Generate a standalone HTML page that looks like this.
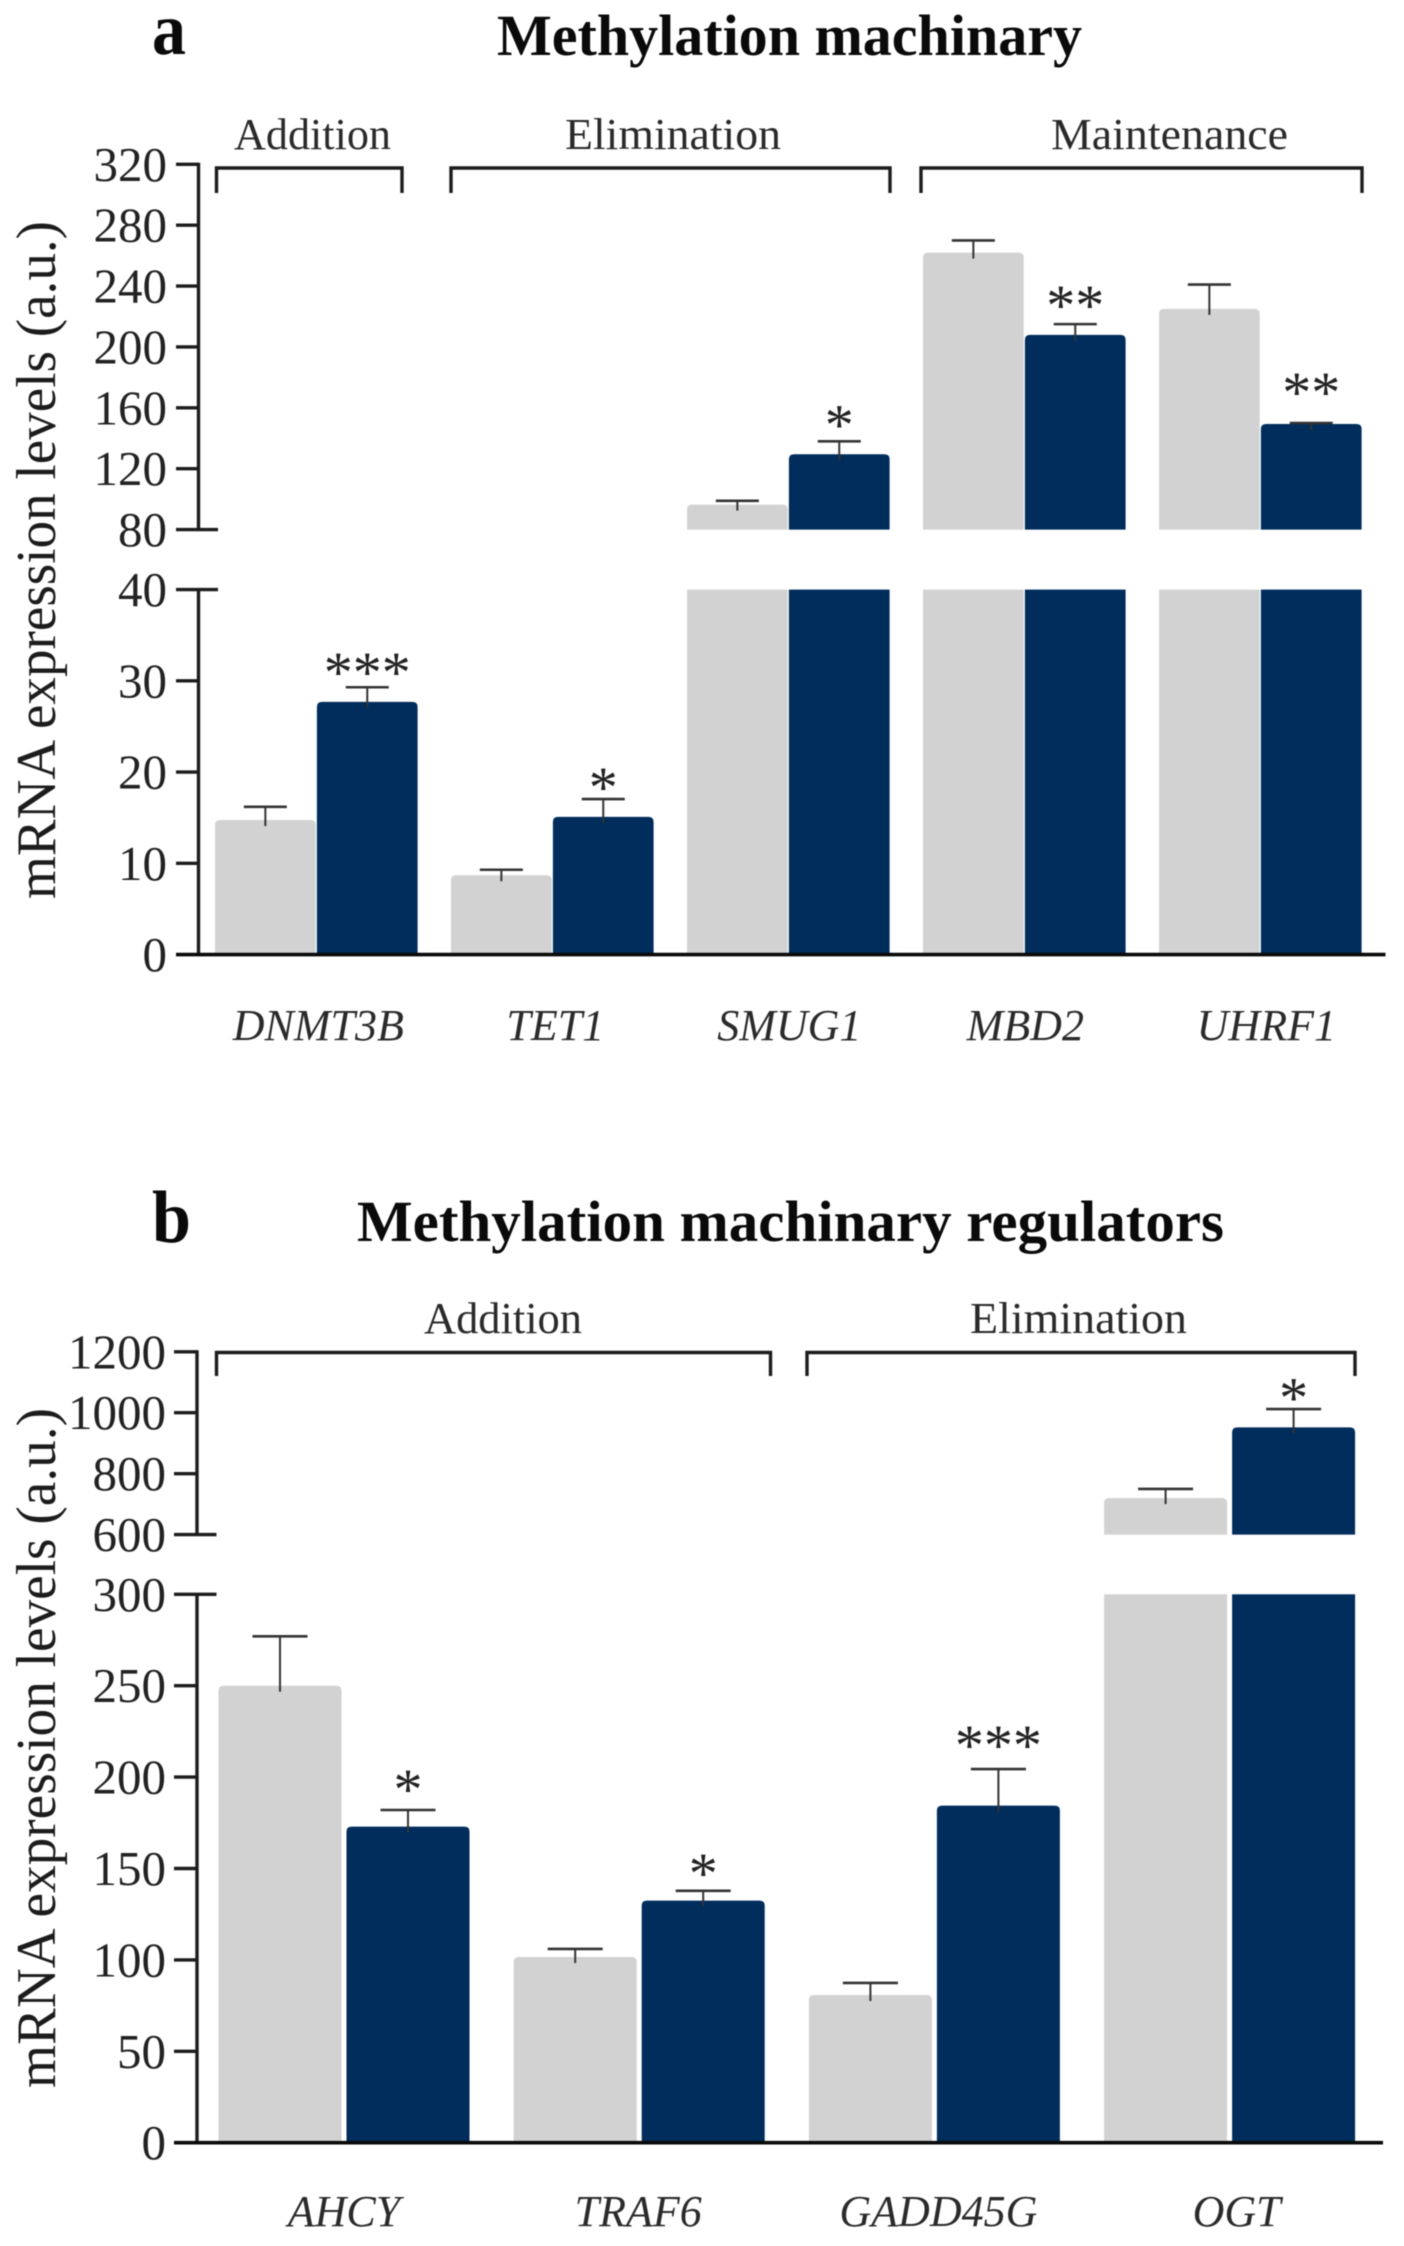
<!DOCTYPE html>
<html lang="en">
<head>
<meta charset="utf-8">
<title>Methylation machinary</title>
<style>
html,body{margin:0;padding:0;background:#fff;}
#figure{display:block;width:1404px;height:2246px;filter:blur(0.6px);font-family:"Liberation Serif",serif;fill:#1c1c1c;}
.title{font-weight:bold;font-size:58px;fill:#0a0a0a;}
.letter{font-weight:bold;font-size:74px;fill:#0a0a0a;}
.group{font-size:44px;fill:#2a2a2a;}
.ytitle{font-size:56px;fill:#1c1c1c;}
</style>
</head>
<body>
<svg id="figure" xmlns="http://www.w3.org/2000/svg" width="1404" height="2246" viewBox="0 0 1404 2246">
  <rect width="1404" height="2246" fill="#fff"/>

  <text class="letter" x="152" y="54" textLength="34" lengthAdjust="spacingAndGlyphs">a</text>
  <text class="title" x="497" y="55" textLength="585" lengthAdjust="spacingAndGlyphs">Methylation machinary</text>
  <text class="group" x="234" y="149" textLength="157" lengthAdjust="spacingAndGlyphs">Addition</text>
  <text class="group" x="565" y="149" textLength="216" lengthAdjust="spacingAndGlyphs">Elimination</text>
  <text class="group" x="1051" y="149" textLength="237" lengthAdjust="spacingAndGlyphs">Maintenance</text>
  <path d="M216.5 193V168H402V193" fill="none" stroke="#1c1c1c" stroke-width="3.4"/>
  <path d="M451 193V168H890V193" fill="none" stroke="#1c1c1c" stroke-width="3.4"/>
  <path d="M921 193V168H1362V193" fill="none" stroke="#1c1c1c" stroke-width="3.4"/>
  <text class="ytitle" transform="translate(55,899) rotate(-90)" textLength="678" lengthAdjust="spacingAndGlyphs">mRNA expression levels (a.u.)</text>

  <text class="letter" x="152" y="1242" textLength="39" lengthAdjust="spacingAndGlyphs">b</text>
  <text class="title" x="357" y="1241" textLength="867" lengthAdjust="spacingAndGlyphs">Methylation machinary regulators</text>
  <text class="group" x="424" y="1333" textLength="158" lengthAdjust="spacingAndGlyphs">Addition</text>
  <text class="group" x="970" y="1333" textLength="217" lengthAdjust="spacingAndGlyphs">Elimination</text>
  <path d="M216.5 1376V1352.5H770.5V1376" fill="none" stroke="#1c1c1c" stroke-width="3.4"/>
  <path d="M807 1376V1352.5H1355V1376" fill="none" stroke="#1c1c1c" stroke-width="3.4"/>
  <text class="ytitle" transform="translate(55,2088) rotate(-90)" textLength="680" lengthAdjust="spacingAndGlyphs">mRNA expression levels (a.u.)</text>

  <g id="panel-a"></g>
  <g id="panel-b"></g>
</svg>
<script>
// Panel a data
const aCategories = ['DNMT3B', 'TET1', 'SMUG1', 'MBD2', 'UHRF1'];
const aControl = [14.75, 8.7, 96.4, 262, 225];
const aControlCap = [16.2, 9.3, 98.9, 270, 241];
const aTreated = [27.7, 15.1, 129.5, 207.9, 149.4];
const aTreatedCap = [29.3, 17.05, 138, 215, 150];
const aStars = ['***', '*', '*', '**', '**'];
const aLowerTicks = [0, 10, 20, 30, 40];
const aUpperTicks = [80, 120, 160, 200, 240, 280, 320];

// Panel b data
const bCategories = ['AHCY', 'TRAF6', 'GADD45G', 'OGT'];
const bControl = [250, 101.6, 80.8, 720];
const bControlCap = [277, 106, 87.4, 750];
const bTreated = [172.9, 132.4, 184.4, 952];
const bTreatedCap = [182, 137.8, 204.4, 1012];
const bStars = ['*', '*', '***', '*'];
const bLowerTicks = [0, 50, 100, 150, 200, 250, 300];
const bUpperTicks = [600, 800, 1000, 1200];

const SVG_NS = 'http://www.w3.org/2000/svg';
const CONTROL_FILL = '#d2d2d2';
const TREATED_FILL = '#002d5c';
const INK = '#1c1c1c';
const STAR_SIZE = 58;

function make(parent, tag, props, text) {
  const el = document.createElementNS(SVG_NS, tag);
  for (const k in props) el.setAttribute(k, props[k]);
  if (text !== undefined) el.textContent = text;
  parent.appendChild(el);
  return el;
}

function topRoundedPath(x, w, top, bottom, r) {
  return 'M' + x + ' ' + bottom + 'V' + (top + r) + 'Q' + x + ' ' + top + ' ' + (x + r) + ' ' + top +
    'H' + (x + w - r) + 'Q' + (x + w) + ' ' + top + ' ' + (x + w) + ' ' + (top + r) + 'V' + bottom + 'Z';
}

function drawPanel(cfg) {
  const root = document.getElementById(cfg.rootId);
  const lowerMax = cfg.lowerTicks[cfg.lowerTicks.length - 1];
  const upperMin = cfg.upperTicks[0];
  const upperMax = cfg.upperTicks[cfg.upperTicks.length - 1];

  const yLower = function (v) {
    return cfg.y0 + (cfg.yLowerTop - cfg.y0) * v / lowerMax;
  };
  const yUpper = function (v) {
    return cfg.yUpperBottom + (cfg.yUpperTop - cfg.yUpperBottom) * (v - upperMin) / (upperMax - upperMin);
  };
  const yValue = function (v) {
    return v > lowerMax ? yUpper(v) : yLower(v);
  };
  const xBar = function (catIndex, seriesIndex) {
    return cfg.x0 + cfg.period * catIndex + seriesIndex * (cfg.barWidth + cfg.barGap);
  };

  function drawBar(catName, seriesName, fill, cat, series, value) {
    const x = xBar(cat, series);
    if (value > lowerMax) {
      const lowerPart = make(root, 'rect', { x: x, y: cfg.yLowerTop, width: cfg.barWidth, height: cfg.y0 - cfg.yLowerTop, fill: fill });
      
      
      const upperPart = make(root, 'path', { d: topRoundedPath(x, cfg.barWidth, yUpper(value), cfg.yUpperBottom, 5), fill: fill });
      
      
    } else {
      const bar = make(root, 'path', { d: topRoundedPath(x, cfg.barWidth, yLower(value), cfg.y0, 5), fill: fill });
      
      
    }
  }

  function drawError(catName, seriesName, cat, series, value, cap) {
    const cx = xBar(cat, series) + cfg.barWidth / 2;
    const capY = yValue(cap);
    const stem = make(root, 'line', { x1: cx, x2: cx, y1: capY, y2: yValue(value) + 6, stroke: '#333', 'stroke-width': 2 });
    
    
    const capLine = make(root, 'line', { x1: cx - cfg.capWidth / 2, x2: cx + cfg.capWidth / 2, y1: capY, y2: capY, stroke: '#333', 'stroke-width': 2.6 });
    
    
  }

  cfg.categories.forEach(function (name, i) {
    drawBar(name, 'control', CONTROL_FILL, i, 0, cfg.control[i]);
    drawBar(name, 'treated', TREATED_FILL, i, 1, cfg.treated[i]);
    drawError(name, 'control', i, 0, cfg.control[i], cfg.controlCap[i]);
    drawError(name, 'treated', i, 1, cfg.treated[i], cfg.treatedCap[i]);

    const star = make(root, 'text', {
      x: xBar(i, 1) + cfg.barWidth / 2,
      y: yValue(cfg.treatedCap[i]) - cfg.starLift[i] + 0.45 * STAR_SIZE,
      'text-anchor': 'middle',
      'font-size': STAR_SIZE,
      fill: '#222'
    }, cfg.stars[i]);
    
    

    const label = make(root, 'text', {
      x: xBar(i, 0) + cfg.barWidth + cfg.barGap / 2 + cfg.labelShift[i],
      y: cfg.labelY,
      'text-anchor': 'middle',
      'font-size': 44,
      'font-style': 'italic',
      fill: '#2a2a2a'
    }, name);
    
    
  });

  const axisUpper = make(root, 'line', { x1: cfg.axisX, x2: cfg.axisX, y1: cfg.yUpperTop - 1.5, y2: cfg.yUpperBottom, stroke: INK, 'stroke-width': 3.4 });
  
  
  const axisLower = make(root, 'line', { x1: cfg.axisX, x2: cfg.axisX, y1: cfg.yLowerTop, y2: cfg.y0, stroke: INK, 'stroke-width': 3.4 });
  
  
  const axisX = make(root, 'line', { x1: cfg.tickLeft, x2: cfg.axisEnd, y1: cfg.y0, y2: cfg.y0, stroke: '#0a0a0a', 'stroke-width': 3.6 });
  
  

  function drawTick(value, y, extend) {
    if (value !== 0) {
      const tick = make(root, 'line', { x1: cfg.tickLeft, x2: extend ? cfg.breakTickEnd : cfg.axisX, y1: y, y2: y, stroke: INK, 'stroke-width': 3.4 });
      
      
    }
    const tickLabel = make(root, 'text', { x: cfg.tickLabelX, y: y + 16.5, 'text-anchor': 'end', 'font-size': 49, fill: '#222' }, String(value));
    
    
  }

  cfg.upperTicks.forEach(function (t) { drawTick(t, yUpper(t), t === upperMin); });
  cfg.lowerTicks.forEach(function (t) { drawTick(t, yLower(t), t === lowerMax); });
}

drawPanel({
  rootId: 'panel-a', categories: aCategories, control: aControl, controlCap: aControlCap,
  treated: aTreated, treatedCap: aTreatedCap, stars: aStars,
  lowerTicks: aLowerTicks, upperTicks: aUpperTicks,
  starLift: [21.5, 18, 23, 25, 37], labelShift: [2, 3, 1, 1, 6],
  y0: 954.6, yLowerTop: 589.6, yUpperBottom: 529.6, yUpperTop: 164.3,
  x0: 215, period: 236, barWidth: 100.7, barGap: 1.2, capWidth: 43,
  axisX: 198.5, tickLeft: 176, breakTickEnd: 218, axisEnd: 1385.5, tickLabelX: 167, labelY: 1040
});

drawPanel({
  rootId: 'panel-b', categories: bCategories, control: bControl, controlCap: bControlCap,
  treated: bTreated, treatedCap: bTreatedCap, stars: bStars,
  lowerTicks: bLowerTicks, upperTicks: bUpperTicks,
  starLift: [27, 24, 30, 17.6], labelShift: [0, -1, 4, 7],
  y0: 2142.7, yLowerTop: 1594.3, yUpperBottom: 1534.6, yUpperTop: 1351.8,
  x0: 218.5, period: 295.2, barWidth: 123, barGap: 5, capWidth: 55,
  axisX: 197, tickLeft: 174, breakTickEnd: 216.5, axisEnd: 1383, tickLabelX: 166, labelY: 2226
});
</script>
</body>
</html>
